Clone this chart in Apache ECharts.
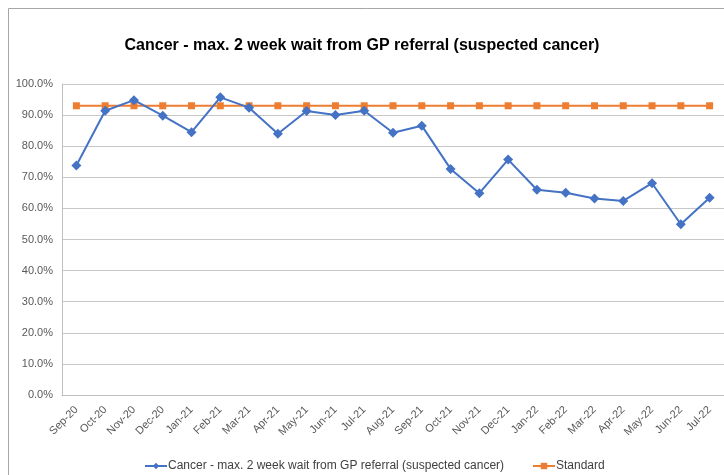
<!DOCTYPE html>
<html>
<head>
<meta charset="utf-8">
<script src="https://cdn.jsdelivr.net/npm/echarts@6/dist/echarts.min.js"></script>
<style>
html,body{margin:0;padding:0;background:#fff;}
#c{width:724px;height:475px;}
</style>
</head>
<body>
<div id="c"></div>
<script>
const categories = ['Sep-20','Oct-20','Nov-20','Dec-20','Jan-21','Feb-21','Mar-21','Apr-21','May-21','Jun-21','Jul-21','Aug-21','Sep-21','Oct-21','Nov-21','Dec-21','Jan-22','Feb-22','Mar-22','Apr-22','May-22','Jun-22','Jul-22'];
const waitValues = [73.8, 91.4, 94.8, 89.8, 84.5, 95.7, 92.4, 84.0, 91.3, 90.0, 91.4, 84.3, 86.6, 72.7, 64.9, 75.7, 66.0, 65.0, 63.2, 62.4, 68.1, 54.9, 63.4];
const standardValues = [93, 93, 93, 93, 93, 93, 93, 93, 93, 93, 93, 93, 93, 93, 93, 93, 93, 93, 93, 93, 93, 93, 93];
const seriesNames = ['Cancer - max. 2 week wait from GP referral (suspected cancer)', 'Standard'];
const titleText = 'Cancer - max. 2 week wait from GP referral (suspected cancer)';

const chart = echarts.init(document.getElementById('c'), null, {renderer: 'canvas'});
const font = '"Liberation Sans", Arial, sans-serif';
chart.setOption({
  animation: false,
  textStyle: {fontFamily: font},
  graphic: [{
    type: 'rect', left: 6, top: 6, z: -1,
    shape: {width: 800, height: 500},
    style: {fill: 'none', stroke: '#a6a6a6', lineWidth: 1}
  }],
  title: {
    text: titleText, left: 'center', top: 33,
    textStyle: {fontFamily: font, fontSize: 16, fontWeight: 'bold', color: '#000'}
  },
  legend: [
    {data: [seriesNames[0]], left: 139, top: 455, itemWidth: 22, itemHeight: 8, itemGap: 4,
     textStyle: {fontFamily: font, fontSize: 12, color: '#404040', padding: [0,0,0,-4]}},
    {data: [seriesNames[1]], left: 527, top: 455, itemWidth: 22, itemHeight: 8,
     textStyle: {fontFamily: font, fontSize: 12, color: '#404040', padding: [0,0,0,-4]}}
  ],
  grid: {left: 62, top: 84, height: 311, width: 674, containLabel: false},
  xAxis: {
    type: 'category', data: categories, boundaryGap: true,
    axisTick: {show: false},
    axisLine: {show: true, lineStyle: {color: '#bfbfbf', width: 1}},
    axisLabel: {interval: 0, rotate: 45, fontSize: 11, color: '#595959', margin: 13, fontFamily: font}
  },
  yAxis: {
    type: 'value', min: 0, max: 100, interval: 10,
    axisLine: {show: true, lineStyle: {color: '#bfbfbf', width: 1}},
    axisTick: {show: false},
    splitLine: {lineStyle: {color: '#c8c8c8', width: 1}},
    axisLabel: {formatter: v => v.toFixed(1) + '%', fontSize: 11, color: '#595959', margin: 9, fontFamily: font}
  },
  series: [
    {
      name: seriesNames[0], type: 'line', data: waitValues,
      symbol: 'diamond', symbolSize: 10, showAllSymbol: true,
      lineStyle: {color: '#4472C4', width: 2},
      itemStyle: {color: '#4472C4'}, z: 3
    },
    {
      name: seriesNames[1], type: 'line', data: standardValues,
      symbol: 'rect', symbolSize: 7, showAllSymbol: true,
      lineStyle: {color: '#ED7D31', width: 2},
      itemStyle: {color: '#ED7D31'}, z: 2
    }
  ]
});
</script>
</body>
</html>
